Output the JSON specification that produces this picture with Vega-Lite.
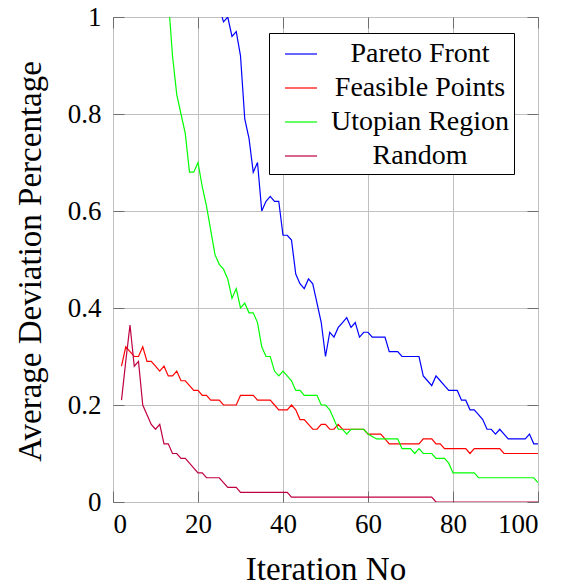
{
  "$schema": "https://vega.github.io/schema/vega-lite/v6.json",
  "autosize": "none",
  "padding": {"left": 113, "top": 17, "right": 25, "bottom": 86},
  "width": 425,
  "height": 485,
  "background": "white",
  "data": {"values": [
    {"x":2,"Feasible Points":0.28,"Random":0.21},
    {"x":3,"Feasible Points":0.32,"Random":0.29},
    {"x":4,"Feasible Points":0.31,"Random":0.365},
    {"x":5,"Feasible Points":0.30,"Random":0.28},
    {"x":6,"Feasible Points":0.30,"Random":0.29},
    {"x":7,"Feasible Points":0.32,"Random":0.20},
    {"x":8,"Feasible Points":0.29,"Random":0.18},
    {"x":9,"Feasible Points":0.29,"Random":0.16},
    {"x":10,"Feasible Points":0.28,"Random":0.15},
    {"x":11,"Feasible Points":0.27,"Random":0.16},
    {"x":12,"Feasible Points":0.28,"Random":0.12,"Utopian Region":1.15},
    {"x":13,"Feasible Points":0.26,"Random":0.12,"Utopian Region":1.04},
    {"x":14,"Feasible Points":0.26,"Random":0.10,"Utopian Region":0.92},
    {"x":15,"Feasible Points":0.27,"Random":0.10,"Utopian Region":0.84},
    {"x":16,"Feasible Points":0.25,"Random":0.09,"Utopian Region":0.80},
    {"x":17,"Feasible Points":0.25,"Random":0.09,"Utopian Region":0.76},
    {"x":18,"Feasible Points":0.24,"Random":0.08,"Utopian Region":0.68},
    {"x":19,"Feasible Points":0.23,"Random":0.07,"Utopian Region":0.68},
    {"x":20,"Feasible Points":0.23,"Random":0.06,"Utopian Region":0.70},
    {"x":21,"Feasible Points":0.22,"Random":0.06,"Utopian Region":0.65},
    {"x":22,"Feasible Points":0.22,"Random":0.05,"Utopian Region":0.61},
    {"x":23,"Feasible Points":0.21,"Random":0.05,"Utopian Region":0.56},
    {"x":24,"Feasible Points":0.21,"Random":0.05,"Utopian Region":0.51,"Pareto Front":1.06},
    {"x":25,"Feasible Points":0.21,"Random":0.05,"Utopian Region":0.49,"Pareto Front":1.02},
    {"x":26,"Feasible Points":0.20,"Random":0.04,"Utopian Region":0.48,"Pareto Front":0.99},
    {"x":27,"Feasible Points":0.20,"Random":0.03,"Utopian Region":0.46,"Pareto Front":1.0},
    {"x":28,"Feasible Points":0.20,"Random":0.03,"Utopian Region":0.42,"Pareto Front":0.96},
    {"x":29,"Feasible Points":0.20,"Random":0.03,"Utopian Region":0.44,"Pareto Front":0.97},
    {"x":30,"Feasible Points":0.22,"Random":0.02,"Utopian Region":0.40,"Pareto Front":0.92},
    {"x":31,"Feasible Points":0.22,"Random":0.02,"Utopian Region":0.41,"Pareto Front":0.79},
    {"x":32,"Feasible Points":0.22,"Random":0.02,"Utopian Region":0.39,"Pareto Front":0.75},
    {"x":33,"Feasible Points":0.22,"Random":0.02,"Utopian Region":0.39,"Pareto Front":0.68},
    {"x":34,"Feasible Points":0.21,"Random":0.02,"Utopian Region":0.37,"Pareto Front":0.70},
    {"x":35,"Feasible Points":0.21,"Random":0.02,"Utopian Region":0.32,"Pareto Front":0.60},
    {"x":36,"Feasible Points":0.21,"Random":0.02,"Utopian Region":0.30,"Pareto Front":0.62},
    {"x":37,"Feasible Points":0.21,"Random":0.02,"Utopian Region":0.30,"Pareto Front":0.63},
    {"x":38,"Feasible Points":0.20,"Random":0.02,"Utopian Region":0.27,"Pareto Front":0.62},
    {"x":39,"Feasible Points":0.19,"Random":0.02,"Utopian Region":0.26,"Pareto Front":0.62},
    {"x":40,"Feasible Points":0.19,"Random":0.02,"Utopian Region":0.27,"Pareto Front":0.55},
    {"x":41,"Feasible Points":0.19,"Random":0.02,"Utopian Region":0.26,"Pareto Front":0.55},
    {"x":42,"Feasible Points":0.20,"Random":0.01,"Utopian Region":0.25,"Pareto Front":0.54},
    {"x":43,"Feasible Points":0.19,"Random":0.01,"Utopian Region":0.23,"Pareto Front":0.47},
    {"x":44,"Feasible Points":0.17,"Random":0.01,"Utopian Region":0.23,"Pareto Front":0.45},
    {"x":45,"Feasible Points":0.17,"Random":0.01,"Utopian Region":0.22,"Pareto Front":0.44},
    {"x":46,"Feasible Points":0.16,"Random":0.01,"Utopian Region":0.22,"Pareto Front":0.46},
    {"x":47,"Feasible Points":0.15,"Random":0.01,"Utopian Region":0.22,"Pareto Front":0.45},
    {"x":48,"Feasible Points":0.15,"Random":0.01,"Utopian Region":0.22,"Pareto Front":0.41},
    {"x":49,"Feasible Points":0.16,"Random":0.01,"Utopian Region":0.20,"Pareto Front":0.37},
    {"x":50,"Feasible Points":0.16,"Random":0.01,"Utopian Region":0.20,"Pareto Front":0.30},
    {"x":51,"Feasible Points":0.15,"Random":0.01,"Utopian Region":0.19,"Pareto Front":0.35},
    {"x":52,"Feasible Points":0.15,"Random":0.01,"Utopian Region":0.17,"Pareto Front":0.34},
    {"x":53,"Feasible Points":0.16,"Random":0.01,"Utopian Region":0.15,"Pareto Front":0.36},
    {"x":54,"Feasible Points":0.15,"Random":0.01,"Utopian Region":0.15,"Pareto Front":0.37},
    {"x":55,"Feasible Points":0.15,"Random":0.01,"Utopian Region":0.14,"Pareto Front":0.38},
    {"x":56,"Feasible Points":0.15,"Random":0.01,"Utopian Region":0.15,"Pareto Front":0.36},
    {"x":57,"Feasible Points":0.15,"Random":0.01,"Utopian Region":0.15,"Pareto Front":0.37},
    {"x":58,"Feasible Points":0.15,"Random":0.01,"Utopian Region":0.15,"Pareto Front":0.34},
    {"x":59,"Feasible Points":0.15,"Random":0.01,"Utopian Region":0.15,"Pareto Front":0.35},
    {"x":60,"Feasible Points":0.14,"Random":0.01,"Utopian Region":0.14,"Pareto Front":0.35},
    {"x":61,"Feasible Points":0.14,"Random":0.01,"Utopian Region":0.135,"Pareto Front":0.34},
    {"x":62,"Feasible Points":0.14,"Random":0.01,"Utopian Region":0.13,"Pareto Front":0.34},
    {"x":63,"Feasible Points":0.14,"Random":0.01,"Utopian Region":0.13,"Pareto Front":0.34},
    {"x":64,"Feasible Points":0.13,"Random":0.01,"Utopian Region":0.13,"Pareto Front":0.34},
    {"x":65,"Feasible Points":0.12,"Random":0.01,"Utopian Region":0.13,"Pareto Front":0.31},
    {"x":66,"Feasible Points":0.12,"Random":0.01,"Utopian Region":0.13,"Pareto Front":0.31},
    {"x":67,"Feasible Points":0.12,"Random":0.01,"Utopian Region":0.13,"Pareto Front":0.31},
    {"x":68,"Feasible Points":0.12,"Random":0.01,"Utopian Region":0.11,"Pareto Front":0.30},
    {"x":69,"Feasible Points":0.12,"Random":0.01,"Utopian Region":0.11,"Pareto Front":0.30},
    {"x":70,"Feasible Points":0.12,"Random":0.01,"Utopian Region":0.11,"Pareto Front":0.30},
    {"x":71,"Feasible Points":0.12,"Random":0.01,"Utopian Region":0.10,"Pareto Front":0.30},
    {"x":72,"Feasible Points":0.12,"Random":0.01,"Utopian Region":0.11,"Pareto Front":0.30},
    {"x":73,"Feasible Points":0.13,"Random":0.01,"Utopian Region":0.10,"Pareto Front":0.26},
    {"x":74,"Feasible Points":0.13,"Random":0.01,"Utopian Region":0.10,"Pareto Front":0.25},
    {"x":75,"Feasible Points":0.13,"Random":0.01,"Utopian Region":0.10,"Pareto Front":0.24},
    {"x":76,"Feasible Points":0.12,"Random":0,"Utopian Region":0.09,"Pareto Front":0.26},
    {"x":77,"Feasible Points":0.12,"Random":0,"Utopian Region":0.09,"Pareto Front":0.25},
    {"x":78,"Feasible Points":0.11,"Random":0,"Utopian Region":0.09,"Pareto Front":0.24},
    {"x":79,"Feasible Points":0.11,"Random":0,"Utopian Region":0.08,"Pareto Front":0.23},
    {"x":80,"Feasible Points":0.11,"Random":0,"Utopian Region":0.06,"Pareto Front":0.23},
    {"x":81,"Feasible Points":0.11,"Random":0,"Utopian Region":0.06,"Pareto Front":0.23},
    {"x":82,"Feasible Points":0.11,"Random":0,"Utopian Region":0.06,"Pareto Front":0.21},
    {"x":83,"Feasible Points":0.11,"Random":0,"Utopian Region":0.06,"Pareto Front":0.21},
    {"x":84,"Feasible Points":0.10,"Random":0,"Utopian Region":0.06,"Pareto Front":0.19},
    {"x":85,"Feasible Points":0.11,"Random":0,"Utopian Region":0.06,"Pareto Front":0.19},
    {"x":86,"Feasible Points":0.11,"Random":0,"Utopian Region":0.05,"Pareto Front":0.18},
    {"x":87,"Feasible Points":0.11,"Random":0,"Utopian Region":0.05,"Pareto Front":0.17},
    {"x":88,"Feasible Points":0.11,"Random":0,"Utopian Region":0.05,"Pareto Front":0.15},
    {"x":89,"Feasible Points":0.11,"Random":0,"Utopian Region":0.05,"Pareto Front":0.15},
    {"x":90,"Feasible Points":0.11,"Random":0,"Utopian Region":0.05,"Pareto Front":0.14},
    {"x":91,"Feasible Points":0.11,"Random":0,"Utopian Region":0.05,"Pareto Front":0.15},
    {"x":92,"Feasible Points":0.10,"Random":0,"Utopian Region":0.05,"Pareto Front":0.14},
    {"x":93,"Feasible Points":0.10,"Random":0,"Utopian Region":0.05,"Pareto Front":0.13},
    {"x":94,"Feasible Points":0.10,"Random":0,"Utopian Region":0.05,"Pareto Front":0.13},
    {"x":95,"Feasible Points":0.10,"Random":0,"Utopian Region":0.05,"Pareto Front":0.13},
    {"x":96,"Feasible Points":0.10,"Random":0,"Utopian Region":0.05,"Pareto Front":0.13},
    {"x":97,"Feasible Points":0.10,"Random":0,"Utopian Region":0.05,"Pareto Front":0.13},
    {"x":98,"Feasible Points":0.10,"Random":0,"Utopian Region":0.05,"Pareto Front":0.14},
    {"x":99,"Feasible Points":0.10,"Random":0,"Utopian Region":0.05,"Pareto Front":0.12},
    {"x":100,"Feasible Points":0.10,"Random":0,"Utopian Region":0.04,"Pareto Front":0.12}
  ]},
  "transform": [
    {"fold": ["Pareto Front", "Feasible Points", "Utopian Region", "Random"], "as": ["series", "value"]}
  ],
  "layer": [
    {
      "mark": {"type": "line", "clip": true, "strokeWidth": 1.2},
      "encoding": {
        "x": {"field": "x", "type": "quantitative",
          "scale": {"domain": [0, 100], "nice": false},
          "axis": {"title": "Iteration No", "values": [0, 20, 40, 60, 80, 100],
            "grid": true, "domain": false, "tickSize": -11, "labelPadding": 20,
            "titleX": 212.5, "titleY": 77, "titleBaseline": "alphabetic", "titleAnchor": "middle"}},
        "y": {"field": "value", "type": "quantitative",
          "scale": {"domain": [0, 1], "nice": false, "zero": false},
          "axis": {"title": "Average Deviation Percentage", "values": [0, 0.2, 0.4, 0.6, 0.8, 1],
            "labelExpr": "'' + datum.value",
            "grid": true, "domain": false, "tickSize": -11, "labelPadding": 23,
            "titleX": -73, "titleY": 244, "titleBaseline": "alphabetic", "titleAnchor": "middle"}},
        "color": {"field": "series", "type": "nominal",
          "scale": {"domain": ["Pareto Front", "Feasible Points", "Utopian Region", "Random"],
            "range": ["#0000ff", "#ff0000", "#00ff00", "#bf0040"]},
          "legend": {"title": null, "orient": "none", "legendX": 156, "legendY": 16,
            "symbolType": "stroke", "symbolSize": 1024, "symbolStrokeWidth": 1.2, "symbolOffset": 11,
            "labelAlign": "center", "labelOffset": 102, "labelFontSize": 28, "labelLimit": 400,
            "rowPadding": 3, "padding": 4, "strokeColor": "#000", "fillColor": "#fff",
            "cornerRadius": 0}}
      }
    },
    {
      "mark": {"type": "point", "opacity": 0},
      "encoding": {
        "x": {"field": "x", "type": "quantitative",
          "axis": {"orient": "top", "title": null, "labels": false, "grid": false, "domain": false,
            "values": [0, 20, 40, 60, 80, 100], "tickSize": -11}},
        "y": {"field": "value", "type": "quantitative",
          "axis": {"orient": "right", "title": null, "labels": false, "grid": false, "domain": false,
            "values": [0, 0.2, 0.4, 0.6, 0.8, 1], "tickSize": -11}}
      }
    }
  ],
  "resolve": {"axis": {"x": "independent", "y": "independent"}},
  "config": {
    "font": "Liberation Serif",
    "view": {"stroke": "#000", "strokeWidth": 1},
    "axis": {
      "labelFont": "Liberation Serif", "labelFontSize": 27, "labelColor": "#000",
      "titleFont": "Liberation Serif", "titleFontSize": 33, "titleFontWeight": "normal", "titleColor": "#000",
      "gridColor": "#c0c0c0", "gridWidth": 1, "tickColor": "#6e6e6e", "tickWidth": 1
    },
    "legend": {"labelFont": "Liberation Serif", "labelColor": "#000"}
  }
}
